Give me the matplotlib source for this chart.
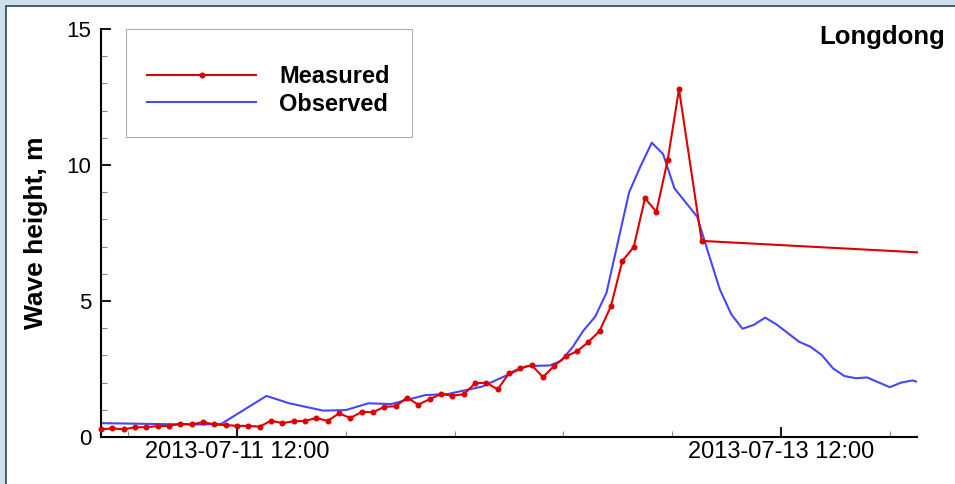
import numpy as np
import pandas as pd
import matplotlib
matplotlib.use('Agg')
import matplotlib.pyplot as plt
import matplotlib.dates as mdates
from matplotlib.patches import Rectangle
from matplotlib.ticker import AutoMinorLocator, MultipleLocator

plt.rcParams['font.family'] = ['Liberation Sans', 'DejaVu Sans']

start = pd.Timestamp('2013-07-11 00:00')

# measured wave height, hours after start
measured_hours = list(range(0, 52)) + [53, 72]
measured_vals = [0.28, 0.32, 0.28, 0.36, 0.36, 0.40, 0.41, 0.48, 0.46, 0.55,
                 0.46, 0.44, 0.41, 0.41, 0.38, 0.60, 0.51, 0.58, 0.59, 0.70,
                 0.59, 0.87, 0.70, 0.92, 0.91, 1.11, 1.13, 1.45, 1.19, 1.39,
                 1.58, 1.52, 1.57, 1.97, 2.00, 1.75, 2.34, 2.53, 2.64, 2.20,
                 2.62, 2.96, 3.15, 3.49, 3.90, 4.82, 6.47, 6.98, 8.78, 8.28,
                 10.18, 12.79, 7.21, 6.79]

# observed (model) wave height
observed_hours = [0, 3, 6, 9, 10.6, 14.6, 16.6, 19.6, 21.6, 23.6, 25.6, 28.6,
                  30.6, 33.6, 37.6, 39.6, 40.6, 41.6, 42.6, 43.6, 44.6, 45.6,
                  46.6, 47.6, 48.6, 49.6, 50.6, 51.6, 52.6, 53.6, 54.6, 55.6,
                  56.6, 57.6, 58.6, 59.6, 60.6, 61.6, 62.6, 63.6, 64.6, 65.6,
                  66.6, 67.6, 68.6, 69.6, 70.6, 71.6, 72]
observed_vals = [0.51, 0.49, 0.47, 0.46, 0.48, 1.51, 1.24, 0.97, 0.99, 1.24,
                 1.21, 1.54, 1.58, 1.85, 2.61, 2.63, 2.80, 3.30, 3.93, 4.42,
                 5.30, 7.15, 9.00, 9.95, 10.82, 10.40, 9.14, 8.62, 8.10, 6.75,
                 5.43, 4.52, 3.98, 4.12, 4.39, 4.14, 3.82, 3.50, 3.32, 3.01,
                 2.52, 2.24, 2.16, 2.19, 2.01, 1.83, 2.00, 2.08, 2.03]

x_range = ['2013-07-11 00:00', '2013-07-14 00:00']
x_ticks = ['2013-07-11 12:00', '2013-07-13 12:00']
station = 'Longdong'

t_meas = start + pd.to_timedelta(measured_hours, unit='h')
t_obs = start + pd.to_timedelta(observed_hours, unit='h')

fig = plt.figure(figsize=(9.55, 4.84), dpi=100, facecolor='#cce2ee')
fig.patches.append(Rectangle((6 / 955, -0.05), 1.2, 1 - 6 / 484 + 0.05,
                             transform=fig.transFigure, facecolor='white',
                             edgecolor='#3a3f44', lw=1.2, zorder=-10))
ax = fig.add_axes([101 / 955, 1 - 437 / 484, 816 / 955, 408 / 484])
ax.set_facecolor('none')

ax.plot(t_meas, measured_vals, color='#dd0000', lw=1.5, marker='o', ms=3.3,
        markevery=list(range(len(measured_vals) - 1)), label='Measured',
        clip_on=False, zorder=3)
ax.plot(t_obs, observed_vals, color='#4646ff', lw=1.5, label='Observed', zorder=2)

ax.set_xlim(pd.to_datetime(x_range))
ax.set_ylim(0, 15)
ax.set_xticks(pd.to_datetime(x_ticks))
ax.xaxis.set_major_formatter(mdates.DateFormatter('%Y-%m-%d %H:%M'))
ax.xaxis.set_minor_locator(AutoMinorLocator(5))
ax.set_yticks([0, 5, 10, 15])
ax.yaxis.set_minor_locator(MultipleLocator(1))

for s in ['top', 'right']:
    ax.spines[s].set_visible(False)
for s in ['left', 'bottom']:
    ax.spines[s].set_linewidth(1.5)

ax.tick_params(which='major', direction='in', length=7, width=1.3, color='black')
ax.tick_params(which='minor', direction='in', length=4, width=0.8, color='#888888')
ax.tick_params(axis='x', which='major', labelsize=17, pad=3)
ax.tick_params(axis='y', which='major', labelsize=16, pad=7)

ax.set_ylabel('Wave height, m', fontsize=19, fontweight='bold', va='center')
ax.yaxis.set_label_coords(-65 / 816, 0.5)

# blank small title pushes the entries down inside the box like the original
leg = ax.legend(loc='upper left', bbox_to_anchor=(25 / 816, 0, 286 / 816, 1.0),
                mode='expand', prop={'size': 17, 'weight': 'bold'},
                frameon=True, fancybox=False, edgecolor='#999999',
                borderpad=0.9, labelspacing=0.2, handlelength=4.6,
                handletextpad=1.0, borderaxespad=0, title=' ',
                title_fontsize=7.5)
leg.get_frame().set_linewidth(0.8)

fig.text(945 / 955, 1 - 37 / 484, station, fontsize=18.5, fontweight='bold',
         ha='right', va='center')

fig.savefig('out.png', dpi=100, facecolor=fig.get_facecolor())
